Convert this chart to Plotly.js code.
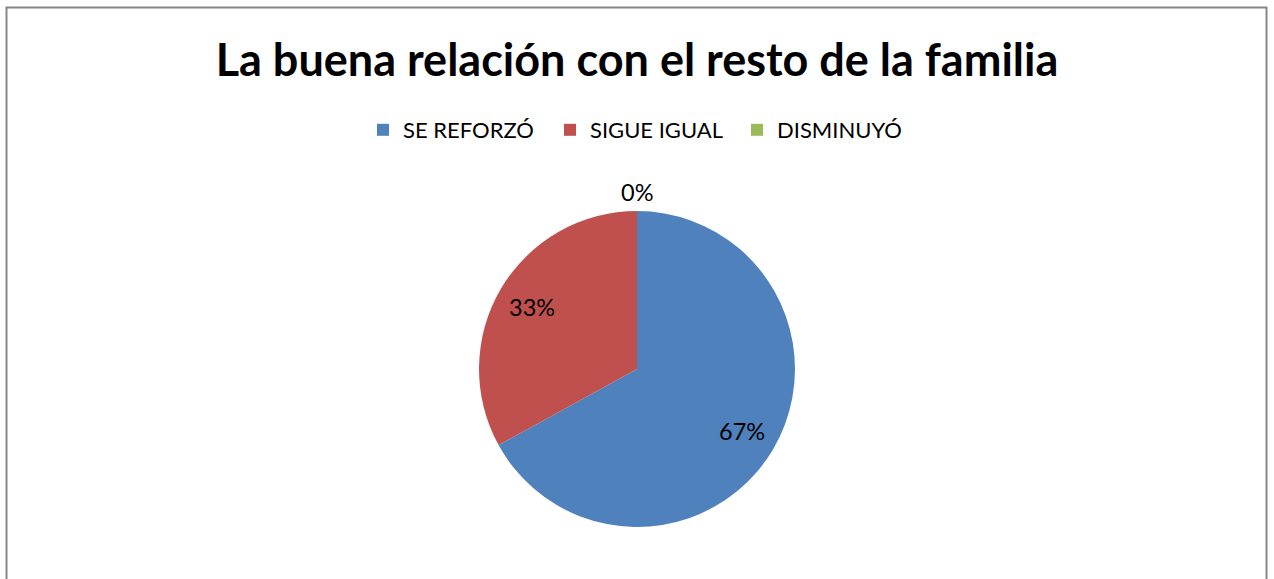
<!DOCTYPE html>
<html>
<head>
<meta charset="utf-8">
<script src="https://cdn.plot.ly/plotly-3.0.1.min.js"></script>
<style>html,body{margin:0;padding:0;background:#fff;}#chart{width:1274px;height:579px;}</style>
</head>
<body>
<div id="chart"></div>
<script>
const categories = ["SE REFORZÓ", "SIGUE IGUAL", "DISMINUYÓ"];
const values = [67, 33, 0];
const colors = ["#4F81BD", "#C0504D", "#9BBB59"];
const titleText = "La buena relación con el resto de la familia";

const W = 1274, H = 579;
const fontFam = "Lato, Open Sans, sans-serif";

// pie geometry (paper fractions)
const dom = {x: [0.376, 0.624], y: [(H - 527) / H, (H - 211) / H]};
const cx = (dom.x[0] + dom.x[1]) / 2 * W;
const cyTop = H - (dom.y[0] + dom.y[1]) / 2 * H; // from top, px
const R = (dom.y[1] - dom.y[0]) * H / 2;

const trace = {
  type: "pie",
  labels: categories,
  values: values,
  sort: false,
  direction: "clockwise",
  rotation: 0,
  marker: {colors: colors, line: {width: 0}},
  textinfo: "none",
  hoverinfo: "label+percent",
  domain: dom,
  showlegend: true
};

// data labels computed from the values (Excel-style placement)
const total = values.reduce((a, b) => a + b, 0);
let cum = 0;
const annotations = values.map((v, i) => {
  const frac = v / total;
  const mid = cum + frac / 2;
  cum += frac;
  const th = mid * 2 * Math.PI;
  const rr = frac > 0.02 ? 0.77 * R : R + 19;
  const px = cx + rr * Math.sin(th);
  const py = cyTop - rr * Math.cos(th);
  return {
    text: Math.round(frac * 100) + "%",
    xref: "paper", yref: "paper",
    x: px / W, y: (H - py) / H,
    xanchor: "center", yanchor: "middle",
    showarrow: false,
    font: {family: fontFam, size: 23.5, color: "#000"}
  };
});

const layout = {
  width: W, height: H,
  margin: {l: 0, r: 0, t: 0, b: 0},
  paper_bgcolor: "#fff",
  title: {
    text: "<b>" + titleText + "</b>",
    font: {family: fontFam, size: 45, color: "#000"},
    x: 0.5, xanchor: "center", xref: "paper",
    y: (H - 60) / H, yanchor: "middle", yref: "paper"
  },
  legend: {
    orientation: "h",
    x: 363 / W, xanchor: "left",
    y: (H - 130) / H, yanchor: "middle",
    font: {family: fontFam, size: 22, color: "#000"},
    itemwidth: 30,
    entrywidth: 142, entrywidthmode: "pixels",
    traceorder: "normal"
  },
  annotations: annotations,
  shapes: [{
    type: "rect", xref: "paper", yref: "paper",
    x0: 6.5 / W, x1: 1266.5 / W, y0: -0.05, y1: (H - 7.5) / H,
    line: {color: "#878787", width: 2}, fillcolor: "rgba(0,0,0,0)"
  }]
};

Plotly.newPlot("chart", [trace], layout, {displayModeBar: false, staticPlot: true});
</script>
</body>
</html>
